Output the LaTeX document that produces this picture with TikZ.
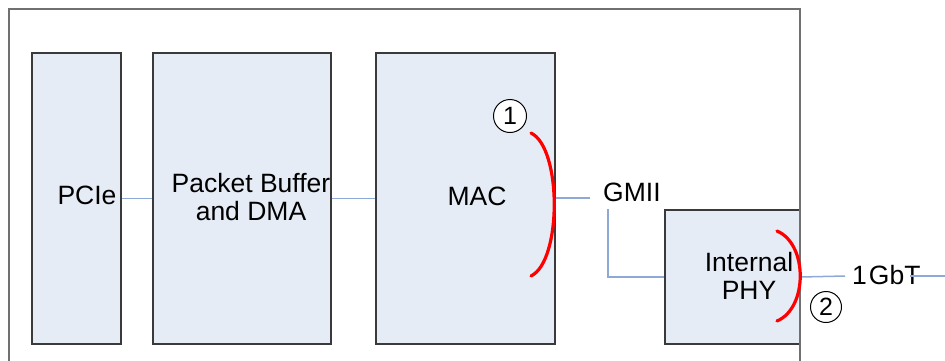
\documentclass[tikz,border=0pt]{standalone}
\usepackage{fontspec}
\setmainfont{Liberation Sans}
\definecolor{boxfill}{HTML}{E6ECF6}
\definecolor{wire}{HTML}{8EA9D6}
\definecolor{outerc}{HTML}{707070}
\definecolor{boxline}{HTML}{3A3A3A}
\begin{document}
\begin{tikzpicture}[x=1pt,y=-1pt,
  blk/.style={draw=boxline,line width=1.3pt,fill=boxfill,inner sep=0pt,rectangle},
  lbl/.style={inner sep=0pt,font=\fontsize{26.5}{28.5}\selectfont,align=center},
  num/.style={draw=black,line width=1pt,fill=white,circle,inner sep=0pt,font=\fontsize{25}{25}\selectfont},
  wireline/.style={draw=wire,line width=1.5pt},
  redarc/.style={draw=red,line width=3.2pt,line cap=round}]
\useasboundingbox (0,0) rectangle (945,360);
\clip (0,0) rectangle (945,360);
% outer box
\draw[outerc,line width=1.4pt] (9,9) rectangle (800,380);
% blocks
\node[blk,minimum width=89pt,minimum height=291pt] (pcie) at (76.5,198.5) {};
\node[blk,minimum width=178pt,minimum height=291pt] (pb) at (242,198.5) {};
\node[blk,minimum width=179pt,minimum height=291pt] (mac) at (465.5,198.5) {};
\node[blk,minimum width=135pt,minimum height=134pt] (phy) at (732.5,277) {};
% redraw outer right edge over phy
\draw[outerc,line width=1.4pt] (800,9) -- (800,380);
% labels
\node[lbl] (tpcie) at (87,195) {PCIe};
\node[lbl] (tpb) at (251,197) {Packet Buffer\\and DMA};
\node[lbl] (tmac) at (477,196) {MAC};
\node[lbl] (tphy) at (749,276) {Internal\\PHY};
\node[lbl,anchor=west] (gmii) at (603,192) {GMII};
\node[lbl,anchor=west] (gbt) at (852,275) {1\kern2ptGbT};
% connectors
\coordinate (m1) at (590,198);
\coordinate (g1) at (608,209);
\coordinate (b1) at (845,276);
\coordinate (b2) at (910,276);
\coordinate (b3) at (945,276);
\draw[wireline] (pcie.east) -- (pb.west);
\draw[wireline] (pb.east) -- (mac.west);
\draw[wireline] (mac.east |- m1) -- (m1);
\draw[wireline] (g1) |- (phy.west);
\draw[wireline] (phy.east) -- (b1);
\draw[wireline] (b2) -- (b3);
% red arcs
\coordinate (a1s) at (531,133);
\coordinate (a1e) at (531,276);
\coordinate (a2s) at (777,231);
\coordinate (a2e) at (777,321);
\draw[redarc] (a1s) .. controls (562,148) and (562,261) .. (a1e);
\draw[redarc] (a2s) .. controls (808,244) and (808,308) .. (a2e);
% numbered circles
\node[num,minimum size=33pt] (n1) at (510,116) {1};
\node[num,minimum size=31pt] (n2) at (826,307) {2};
\end{tikzpicture}
\end{document}
